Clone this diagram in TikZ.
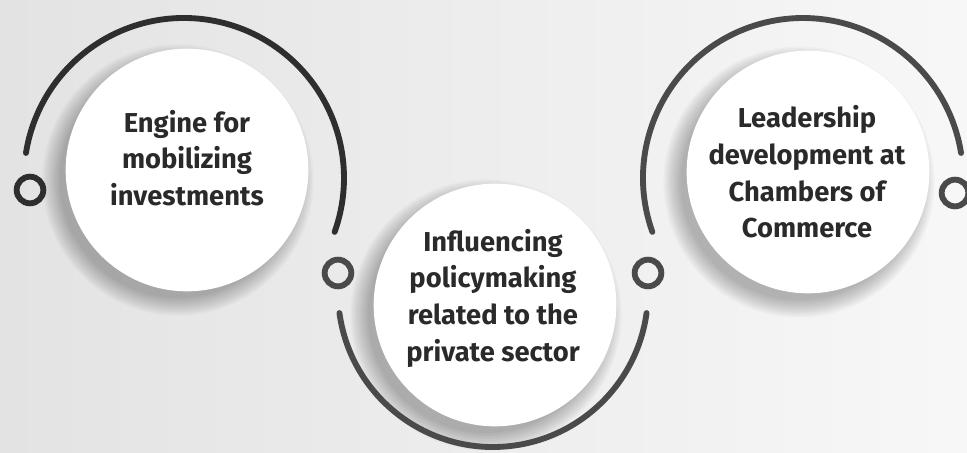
\documentclass[tikz,border=0pt]{standalone}
\usepackage{fontspec}
\setmainfont{Fira Sans}
\definecolor{arcdark}{HTML}{2E2E2E}
\definecolor{arcmid}{HTML}{4A4A4A}
\definecolor{txtc}{HTML}{2A2A2A}
\begin{document}
\begin{tikzpicture}[x=0.75pt,y=0.75pt,
  disc/.style={circle,fill=white,minimum size=182pt,inner sep=0pt},
  ring/.style={circle,draw=#1,line width=4.4pt,minimum size=20pt,inner sep=0pt},
  ring/.default=arcdark,
  arcline/.style={draw=#1,line width=4.4pt,line cap=round},
  arcline/.default=arcdark,
  txt/.style={align=center,text=txtc,font=\bfseries\fontsize{20.5}{27.5}\selectfont}]
\useasboundingbox (0,0) rectangle (967,453);
\shade[left color=black!11,middle color=black!6,right color=black!3] (0,0) rectangle (967,453);
% soft shadows
\foreach \cx/\cy in {187/283, 495/148, 808/281}{
  \foreach \i in {0,...,11}{
    \fill[black,opacity=0.022] (\cx-9,\cy-10) circle[radius=118+\i*1.6];
  }
}
% discs
\node[disc] (d1) at (187,283) {};
\node[disc] (d2) at (495,148) {};
\node[disc] (d3) at (808,281) {};
% arcs
\draw[arcline] (184,275) ++(171:160) arc[start angle=171,end angle=-19.7,radius=160];
\draw[arcline=arcmid] (493,161) ++(187.8:155) arc[start angle=187.8,end angle=352.2,radius=155];
\draw[arcline=arcmid] (803,275) ++(199.7:160) arc[start angle=199.7,end angle=9,radius=160];
% rings
\node[ring] (r1) at (30,263) {};
\node[ring=arcmid] (r2) at (338,180) {};
\node[ring=arcmid] (r3) at (648,180) {};
\node[ring=arcmid] (r4) at (955,260) {};
% texts
\node[txt] (t1) at (187,295) {Engine for\\mobilizing\\investments};
\node[txt] (t2) at (493,155) {Influencing\\policymaking\\related to the\\private sector};
\node[txt] (t3) at (807,281) {Leadership\\development at\\Chambers of\\Commerce};
\end{tikzpicture}
\end{document}
